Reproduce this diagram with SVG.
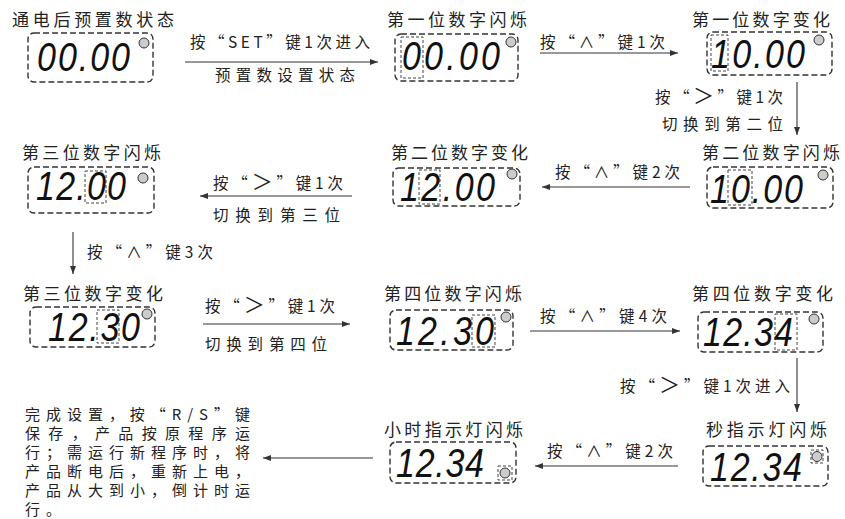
<svg xmlns="http://www.w3.org/2000/svg" width="845" height="519" viewBox="0 0 845 519">
<defs>
<style>
.t{font-family:"Noto Sans CJK SC","Noto Sans",sans-serif;font-size:17px;fill:#222;}
.l{font-family:"Noto Sans CJK SC","Noto Sans",sans-serif;font-size:15.5px;fill:#222;}
.p{font-family:"Noto Sans CJK SC","Noto Sans",sans-serif;font-size:15px;fill:#222;}
.g{font-size:21px;}
.d{font-family:"Liberation Sans",Arial,sans-serif;font-style:italic;font-size:34px;fill:#111;}
.box{fill:none;stroke:#333;stroke-width:1.4;stroke-dasharray:6 3;}
.hl{fill:none;stroke:#444;stroke-width:1;stroke-dasharray:3 2;}
.led{fill:#ccc;stroke:#333;stroke-width:1;}
.c{stroke:#333;stroke-width:1.1;fill:none;marker-end:url(#ah);}
</style>
<marker id="ah" viewBox="0 0 8 6" refX="8" refY="3" markerWidth="8" markerHeight="6" markerUnits="userSpaceOnUse" orient="auto"><path d="M0,0 L8,3 L0,6 z" fill="#333"/></marker>
</defs>
<rect width="845" height="519" fill="#fff"/>

<g id="connectors">
<line class="c" x1="185" y1="62" x2="378" y2="62"/>
<line class="c" x1="540" y1="53" x2="678" y2="53"/>
<line class="c" x1="797" y1="82" x2="797" y2="135"/>
<line class="c" x1="690" y1="187" x2="542" y2="187"/>
<line class="c" x1="352" y1="196" x2="200" y2="196"/>
<line class="c" x1="73" y1="232" x2="73" y2="274"/>
<line class="c" x1="203" y1="324" x2="350" y2="324"/>
<line class="c" x1="530" y1="331" x2="680" y2="331"/>
<line class="c" x1="797" y1="358" x2="797" y2="412"/>
<line class="c" x1="678" y1="466" x2="535" y2="466"/>
<line class="c" x1="373" y1="458" x2="263" y2="458"/>
<text class="l" x="190" y="48" textLength="180" lengthAdjust="spacing">按“SET”键1次进入</text>
<text class="l" x="215" y="81" textLength="140" lengthAdjust="spacing">预置数设置状态</text>
<text class="l" x="540" y="48" textLength="125" lengthAdjust="spacing">按“∧”键1次</text>
<text class="l" x="655" y="103" textLength="128" lengthAdjust="spacing">按“<tspan class="g">＞</tspan>”键1次</text>
<text class="l" x="662" y="130" textLength="121" lengthAdjust="spacing">切换到第二位</text>
<text class="l" x="555" y="178" textLength="125" lengthAdjust="spacing">按“∧”键2次</text>
<text class="l" x="213" y="189" textLength="130" lengthAdjust="spacing">按“<tspan class="g">＞</tspan>”键1次</text>
<text class="l" x="213" y="221" textLength="127" lengthAdjust="spacing">切换到第三位</text>
<text class="l" x="87" y="258" textLength="126" lengthAdjust="spacing">按“∧”键3次</text>
<text class="l" x="205" y="312" textLength="130" lengthAdjust="spacing">按“<tspan class="g">＞</tspan>”键1次</text>
<text class="l" x="205" y="350" textLength="122" lengthAdjust="spacing">切换到第四位</text>
<text class="l" x="540" y="322" textLength="127" lengthAdjust="spacing">按“∧”键4次</text>
<text class="l" x="620" y="392" textLength="170" lengthAdjust="spacing">按“<tspan class="g">＞</tspan>”键1次进入</text>
<text class="l" x="547" y="457" textLength="126" lengthAdjust="spacing">按“∧”键2次</text>
</g>

<g id="n1">
<text class="t" x="12" y="26" textLength="162" lengthAdjust="spacing">通电后预置数状态</text>
<rect class="box" x="28" y="33" width="125" height="49" rx="6"/>
<text class="d" transform="translate(37,71) scale(1,1.2)" x="0" y="0" textLength="93" lengthAdjust="spacing">00.00</text>
<circle class="led" cx="144" cy="43" r="5"/>
</g>

<g id="n2">
<text class="t" x="387" y="26" textLength="140" lengthAdjust="spacing">第一位数字闪烁</text>
<rect class="box" x="395" y="34" width="123" height="47" rx="6"/>
<rect class="hl" x="401" y="37" width="22" height="41"/>
<text class="d" transform="translate(402,70) scale(1,1.2)" x="0" y="0" textLength="98" lengthAdjust="spacing">00.00</text>
<circle class="led" cx="511" cy="42" r="5"/>
</g>

<g id="n3">
<text class="t" x="692" y="26" textLength="138" lengthAdjust="spacing">第一位数字变化</text>
<rect class="box" x="707" y="32" width="125" height="43" rx="6"/>
<rect class="hl" x="711" y="35" width="17" height="36"/>
<text class="d" transform="translate(711,68) scale(1,1.2)" x="0" y="0" textLength="94" lengthAdjust="spacing">10.00</text>
<circle class="led" cx="819" cy="40" r="5"/>
</g>

<g id="n4">
<text class="t" x="22" y="159" textLength="139" lengthAdjust="spacing">第三位数字闪烁</text>
<rect class="box" x="28" y="167" width="126" height="46" rx="6"/>
<rect class="hl" x="85" y="171" width="21" height="32"/>
<text class="d" transform="translate(36,200) scale(1,1.2)" x="0" y="0" textLength="90" lengthAdjust="spacing">12.00</text>
<circle class="led" cx="143" cy="178" r="5"/>
</g>

<g id="n5">
<text class="t" x="391" y="159" textLength="137" lengthAdjust="spacing">第二位数字变化</text>
<rect class="box" x="393" y="168" width="127" height="38" rx="6"/>
<rect class="hl" x="419" y="170" width="21" height="34"/>
<text class="d" transform="translate(400,201) scale(1,1.2)" x="0" y="0" textLength="95" lengthAdjust="spacing">12.00</text>
<circle class="led" cx="512" cy="174" r="5"/>
</g>

<g id="n6">
<text class="t" x="702" y="159" textLength="138" lengthAdjust="spacing">第二位数字闪烁</text>
<rect class="box" x="707" y="167" width="126" height="41" rx="6"/>
<rect class="hl" x="728" y="170" width="24" height="35"/>
<text class="d" transform="translate(710,203) scale(1,1.2)" x="0" y="0" textLength="93" lengthAdjust="spacing">10.00</text>
<circle class="led" cx="823" cy="175" r="5"/>
</g>

<g id="n7">
<text class="t" x="23" y="300" textLength="140" lengthAdjust="spacing">第三位数字变化</text>
<rect class="box" x="30" y="307" width="125" height="40" rx="6"/>
<rect class="hl" x="97" y="310" width="22" height="33"/>
<text class="d" transform="translate(48,341) scale(1,1.2)" x="0" y="0" textLength="92" lengthAdjust="spacing">12.30</text>
<circle class="led" cx="147" cy="314" r="5"/>
</g>

<g id="n8">
<text class="t" x="384" y="300" textLength="138" lengthAdjust="spacing">第四位数字闪烁</text>
<rect class="box" x="390" y="310" width="123" height="40" rx="6"/>
<rect class="hl" x="472" y="315" width="23" height="32"/>
<text class="d" transform="translate(396,345) scale(1,1.2)" x="0" y="0" textLength="98" lengthAdjust="spacing">12.30</text>
<circle class="led" cx="506" cy="317" r="5"/>
</g>

<g id="n9">
<text class="t" x="692" y="300" textLength="141" lengthAdjust="spacing">第四位数字变化</text>
<rect class="box" x="698" y="312" width="125" height="40" rx="6"/>
<rect class="hl" x="775" y="314" width="22" height="36"/>
<text class="d" transform="translate(703,346) scale(1,1.2)" x="0" y="0" textLength="90" lengthAdjust="spacing">12.34</text>
<circle class="led" cx="814" cy="319" r="5"/>
</g>

<g id="n10">
<text class="t" x="384" y="436" textLength="139" lengthAdjust="spacing">小时指示灯闪烁</text>
<rect class="box" x="390" y="442" width="126" height="41" rx="6"/>
<text class="d" transform="translate(396,477) scale(1,1.2)" x="0" y="0" textLength="88" lengthAdjust="spacing">12.34</text>
<rect class="hl" x="498" y="466" width="14" height="14"/>
<circle class="led" cx="505" cy="473" r="5"/>
</g>

<g id="n11">
<text class="t" x="706" y="436" textLength="121" lengthAdjust="spacing">秒指示灯闪烁</text>
<rect class="box" x="703" y="446" width="125" height="40" rx="6"/>
<text class="d" transform="translate(710,481) scale(1,1.2)" x="0" y="0" textLength="92" lengthAdjust="spacing">12.34</text>
<rect class="hl" x="811" y="450" width="12" height="13"/>
<circle class="led" cx="817" cy="456.5" r="5"/>
</g>

<g id="n12">
<text class="p" x="25" y="420" textLength="225" lengthAdjust="spacing">完成设置，按“R/S”键</text>
<text class="p" x="25" y="439" textLength="225" lengthAdjust="spacing">保存，产品按原程序运</text>
<text class="p" x="25" y="458" textLength="225" lengthAdjust="spacing">行；需运行新程序时，将</text>
<text class="p" x="25" y="477" textLength="225" lengthAdjust="spacing">产品断电后，重新上电，</text>
<text class="p" x="25" y="496" textLength="225" lengthAdjust="spacing">产品从大到小，倒计时运</text>
<text class="p" x="25" y="515" letter-spacing="6">行。</text>
</g>
</svg>
